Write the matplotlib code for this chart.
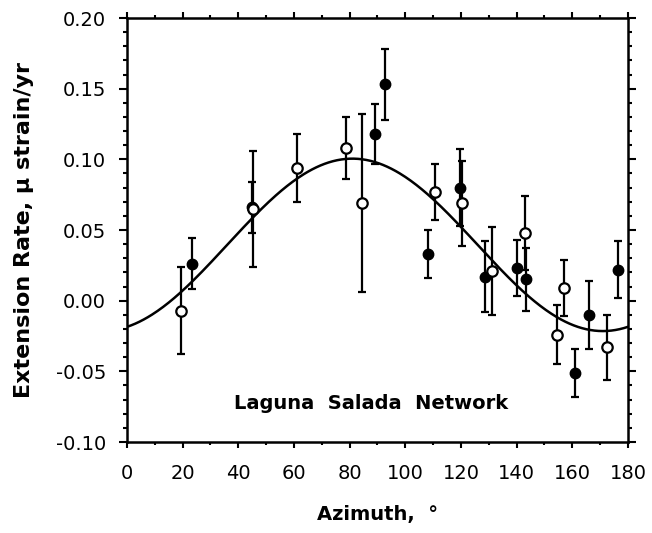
import matplotlib
matplotlib.use('Agg')
import matplotlib.pyplot as plt
import numpy as np
from matplotlib.ticker import MultipleLocator, FormatStrFormatter

plt.rcParams['font.family'] = ['DejaVu Sans']
plt.rcParams['axes.unicode_minus'] = False

# open circles
open_az = [19.3, 45.2, 61.0, 78.7, 84.3, 110.7, 120.3, 131.0, 143.0, 154.6, 157.0, 172.6]
open_rate = [-0.007, 0.065, 0.094, 0.108, 0.069, 0.077, 0.069, 0.021, 0.048, -0.024, 0.009, -0.033]
open_err = [0.031, 0.041, 0.024, 0.022, 0.063, 0.020, 0.030, 0.031, 0.026, 0.021, 0.020, 0.023]

# filled circles
fill_az = [23.5, 45.0, 89.1, 92.7, 108.3, 119.7, 128.6, 140.0, 143.4, 161.0, 166.1, 176.6]
fill_rate = [0.026, 0.066, 0.118, 0.153, 0.033, 0.080, 0.017, 0.023, 0.015, -0.051, -0.010, 0.022]
fill_err = [0.018, 0.018, 0.021, 0.025, 0.017, 0.027, 0.025, 0.020, 0.022, 0.017, 0.024, 0.020]

# fitted sinusoid: mean + amp*cos(2*(az - az_max))
fit_mean = 0.0395
fit_amp = 0.061
fit_az_max = 81.0

fig = plt.figure(figsize=(6.52, 5.33), dpi=100)
ax = fig.add_axes([0.1948, 0.1707, 0.7682, 0.7955])

az = np.linspace(0, 180, 361)
ax.plot(az, fit_mean + fit_amp * np.cos(np.radians(2 * (az - fit_az_max))),
        color='black', lw=1.8, zorder=2)

ax.errorbar(fill_az, fill_rate, yerr=fill_err, fmt='o', color='black',
            mfc='black', mec='black', ms=7.5, elinewidth=1.6, capsize=3,
            capthick=1.6, zorder=3)
ax.errorbar(open_az, open_rate, yerr=open_err, fmt='o', color='black',
            mfc='white', mec='black', mew=1.6, ms=7.5, elinewidth=1.6,
            capsize=3, capthick=1.6, zorder=4)

ax.text(87.6, -0.0725, 'Laguna  Salada  Network', ha='center', va='center',
        fontsize=14, fontweight='bold')

ax.set_xlim(0, 180)
ax.set_ylim(-0.10, 0.20)
ax.xaxis.set_major_locator(MultipleLocator(20))
ax.xaxis.set_minor_locator(MultipleLocator(10))
ax.yaxis.set_major_locator(MultipleLocator(0.05))
ax.yaxis.set_minor_locator(MultipleLocator(0.01))
ax.yaxis.set_major_formatter(FormatStrFormatter('%.2f'))
ax.tick_params(which='both', direction='out', top=True, right=True,
               labelsize=14, width=1.5)
ax.tick_params(axis='y', which='major', length=6, pad=9)
ax.tick_params(axis='y', which='minor', length=3)
ax.tick_params(axis='x', which='major', length=4, pad=12)
ax.tick_params(axis='x', which='minor', length=2.5)
for s in ax.spines.values():
    s.set_linewidth(1.8)

ax.set_xlabel('Azimuth,  \u00b0', fontsize=14, fontweight='bold', labelpad=16)
ax.set_ylabel('Extension Rate, \u00b5 strain/yr', fontsize=16,
              fontweight='bold', labelpad=16)

fig.savefig('out.png', dpi=100)
